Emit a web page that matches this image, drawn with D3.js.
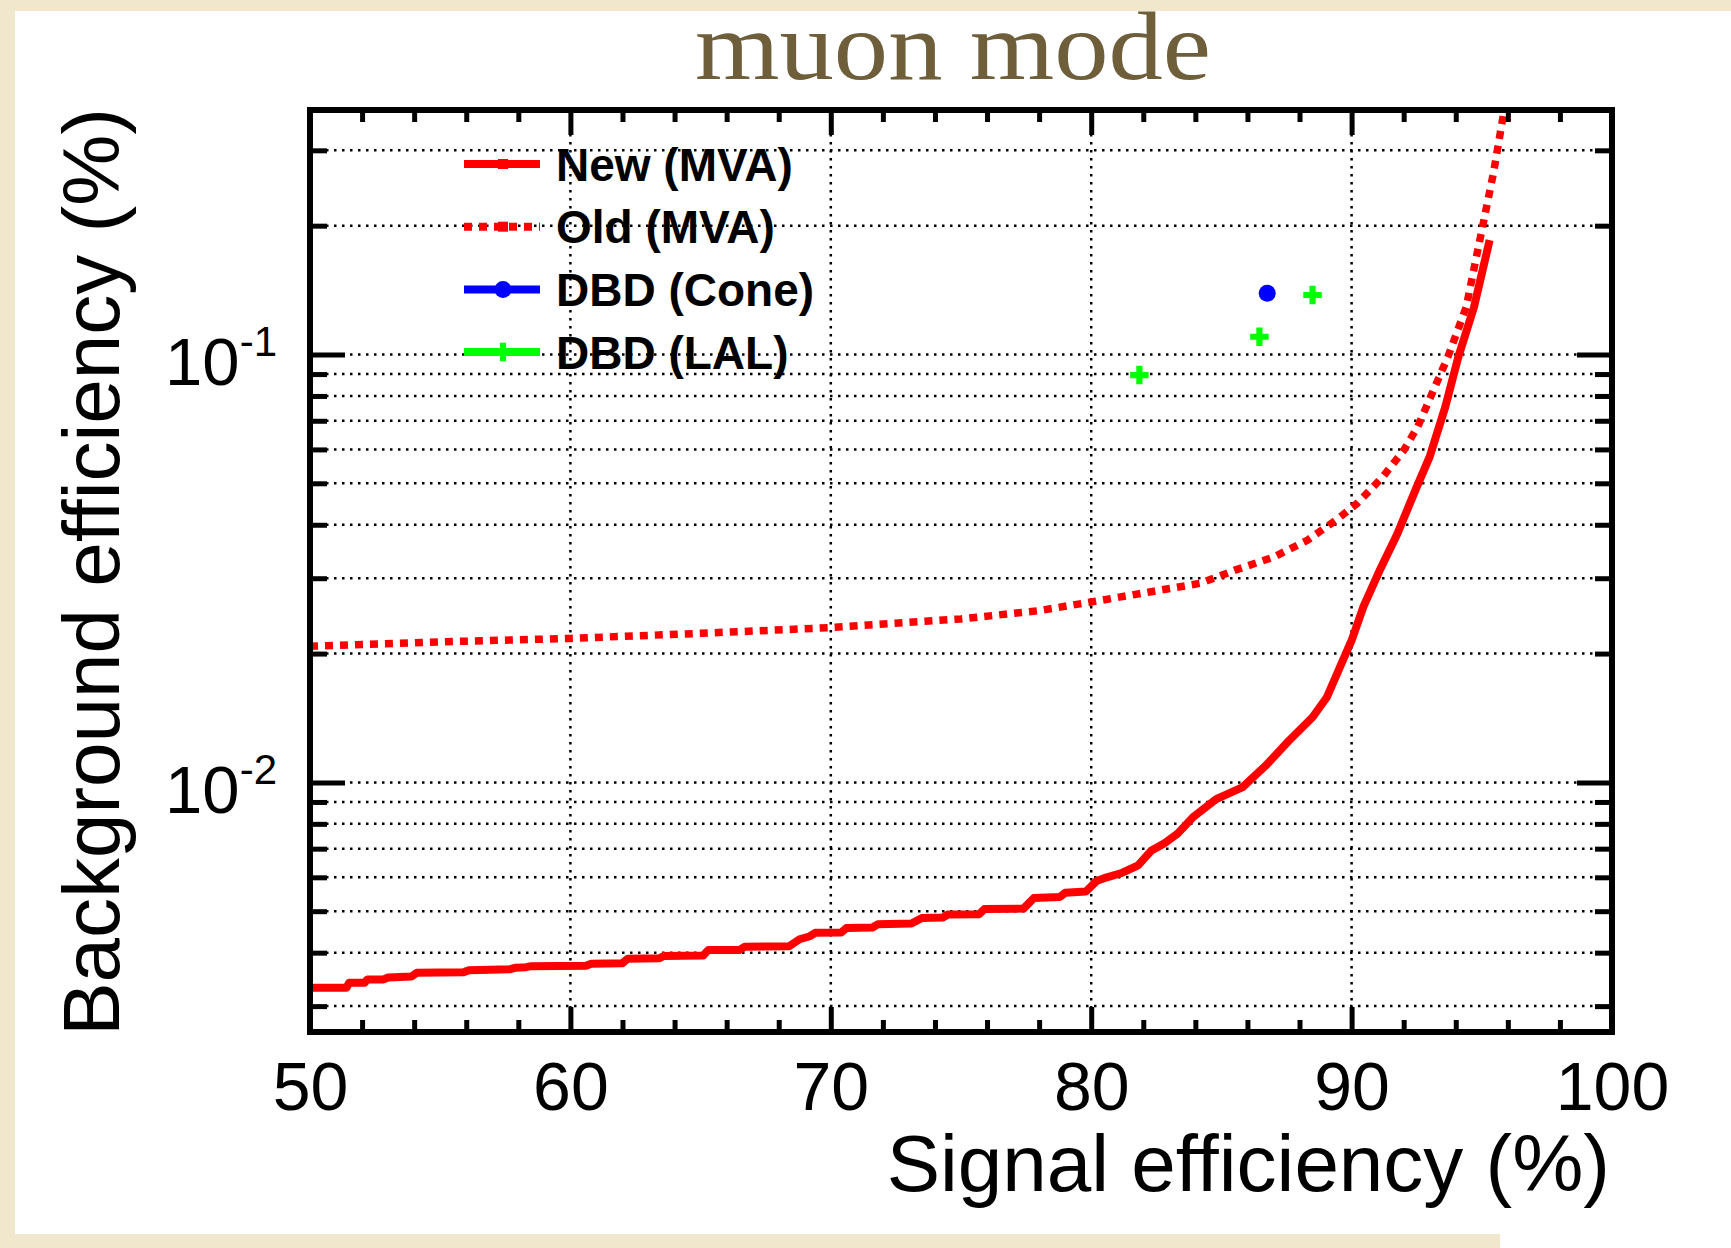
<!DOCTYPE html>
<html>
<head>
<meta charset="utf-8">
<script src="https://cdn.jsdelivr.net/npm/d3@7"></script>
<style>
  html, body { margin: 0; overflow: hidden; background: #fff; }
  svg { display: block; }
</style>
</head>
<body>
<div id="chart"></div>
<script>
// data
const newMVA = [
  [50.0, 0.00331], [51.4, 0.00331], [51.5, 0.0034], [52.1, 0.0034], [52.2, 0.00346],
  [52.8, 0.00346], [53.0, 0.0035], [53.9, 0.00352], [54.1, 0.00359], [55.9, 0.0036],
  [56.1, 0.00364], [57.7, 0.00366], [57.9, 0.00369], [58.3, 0.0037], [58.5, 0.00372],
  [60.6, 0.00373], [60.8, 0.00377], [62.0, 0.00378], [62.2, 0.00387], [63.4, 0.00388],
  [63.6, 0.00393], [65.1, 0.00394], [65.3, 0.00406], [66.5, 0.00406], [66.7, 0.00413],
  [68.4, 0.00414], [68.8, 0.0043], [69.2, 0.00437], [69.4, 0.00445], [70.4, 0.00446],
  [70.6, 0.00457], [71.6, 0.00458], [71.8, 0.00466], [73.1, 0.00468], [73.5, 0.00482],
  [74.3, 0.00483], [74.5, 0.00491], [75.7, 0.00492], [75.9, 0.00506], [77.4, 0.00507],
  [77.8, 0.00537], [78.8, 0.0054], [79.0, 0.00552], [79.8, 0.00556], [80.2, 0.00588],
  [80.6, 0.006], [81.2, 0.00615], [81.8, 0.0064], [82.3, 0.00692], [82.8, 0.0072],
  [83.3, 0.00757], [83.9, 0.00828], [84.8, 0.00914], [85.8, 0.00973], [86.7, 0.01094],
  [87.6, 0.01253], [88.5, 0.0142], [89.05, 0.01581], [89.55, 0.01858], [90.0, 0.02146],
  [90.45, 0.0257], [91.1, 0.0315], [91.75, 0.0380], [92.45, 0.0482], [93.0, 0.0577],
  [93.6, 0.0755], [94.1, 0.0988], [94.7, 0.129], [95.3, 0.185]
];
const oldMVA = [
  [50, 0.0208], [55, 0.0213], [60, 0.0217], [65, 0.0223], [70, 0.023], [75, 0.0241],
  [78, 0.0252], [80, 0.0264], [82.3, 0.0279], [84.2, 0.0292], [85.5, 0.0313], [87.0, 0.0336],
  [88.3, 0.0368], [89.4, 0.041], [90.2, 0.0448], [91.2, 0.0518], [92.0, 0.0597], [92.55, 0.068],
  [93.7, 0.0988], [94.4, 0.129], [95.0, 0.195], [95.45, 0.266], [95.86, 0.373]
];
const dbdCone = [[86.76, 0.139]];
const dbdLAL = [[88.5, 0.1377], [86.46, 0.110], [81.85, 0.0895]];

const xRange = [50, 100];
const yRange = [0.00261, 0.3727];
const xMajor = [50, 60, 70, 80, 90, 100];
const xMinor = [52, 54, 56, 58, 62, 64, 66, 68, 72, 74, 76, 78, 82, 84, 86, 88, 92, 94, 96, 98];
const yMajor = [0.01, 0.1];
const yMinor = [0.003, 0.004, 0.005, 0.006, 0.007, 0.008, 0.009,
                0.02, 0.03, 0.04, 0.05, 0.06, 0.07, 0.08, 0.09, 0.2, 0.3];
const yLabels = { 0.01: "-2", 0.1: "-1" };
const legendLabels = ["New (MVA)", "Old (MVA)", "DBD (Cone)", "DBD (LAL)"];

const W = 1731, H = 1248;
const fL = 310, fR = 1612, fT = 110, fB = 1032;
const paper = "#f1e7cc";

const svg = d3.select("#chart").append("svg").attr("width", W).attr("height", H);

// beige paper edges round the white slide
svg.append("rect").attr("width", W).attr("height", H).attr("fill", "#fff");
svg.append("rect").attr("width", W).attr("height", 11).attr("fill", paper);
svg.append("rect").attr("width", 15).attr("height", H).attr("fill", paper);
svg.append("rect").attr("y", 1234).attr("width", 1500).attr("height", H - 1234).attr("fill", paper);

svg.append("text")
  .attr("x", 953).attr("y", 79)
  .attr("text-anchor", "middle")
  .attr("font-family", "Liberation Serif, serif")
  .attr("font-size", 98)
  .attr("textLength", 516)
  .attr("lengthAdjust", "spacingAndGlyphs")
  .attr("fill", "#6e5e3a")
  .text("muon mode");

const x = d3.scaleLinear().domain(xRange).range([fL, fR]);
const y = d3.scaleLog().domain(yRange).range([fB, fT]);

svg.append("defs").append("clipPath").attr("id", "frame")
  .append("rect").attr("x", fL).attr("y", fT).attr("width", fR - fL).attr("height", fB - fT);

// grid
const grid = svg.append("g").attr("stroke", "#000").attr("stroke-width", 2.5).attr("stroke-dasharray", "2.5,5.5");
grid.selectAll(".gx").data(xMajor.slice(1, -1)).join("line")
  .attr("x1", d => x(d)).attr("x2", d => x(d)).attr("y1", fT).attr("y2", fB);
grid.selectAll(".gy").data(yMajor.concat(yMinor)).join("line")
  .attr("y1", d => y(d)).attr("y2", d => y(d)).attr("x1", fL).attr("x2", fR);

// curves
const line = d3.line().x(d => x(d[0])).y(d => y(d[1]));
const plot = svg.append("g").attr("clip-path", "url(#frame)");
plot.append("path").datum(oldMVA).attr("d", line)
  .attr("fill", "none").attr("stroke", "#ff0000").attr("stroke-width", 7.5).attr("stroke-dasharray", "8,7");
plot.append("path").datum(newMVA).attr("d", line)
  .attr("fill", "none").attr("stroke", "#ff0000").attr("stroke-width", 8).attr("stroke-linejoin", "round");

const cross = d3.symbol().type(d3.symbolCross).size(190);
plot.selectAll(".lal").data(dbdLAL).join("path")
  .attr("transform", d => `translate(${x(d[0])},${y(d[1])})`)
  .attr("d", cross).attr("fill", "#00ff00");
plot.selectAll(".cone").data(dbdCone).join("circle")
  .attr("cx", d => x(d[0])).attr("cy", d => y(d[1])).attr("r", 8.5).attr("fill", "#0000ff");

// axes with inward ticks
function styleAxis(g) {
  g.select(".domain").remove();
  g.selectAll(".tick line").attr("stroke", "#000").attr("stroke-width", 5);
}
svg.append("g").attr("transform", `translate(0,${fB})`)
  .call(d3.axisBottom(x).tickValues(xMajor).tickSizeInner(-25).tickPadding(30).tickFormat(d3.format("d")))
  .call(styleAxis)
  .call(g => g.selectAll("text").attr("font-family", "Liberation Sans, Arial, sans-serif").attr("font-size", 68).attr("fill", "#000"));
svg.append("g").attr("transform", `translate(0,${fB})`)
  .call(d3.axisBottom(x).tickValues(xMinor).tickSizeInner(-12).tickFormat("")).call(styleAxis);
svg.append("g").attr("transform", `translate(0,${fT})`)
  .call(d3.axisTop(x).tickValues(xMajor).tickSizeInner(-25).tickFormat("")).call(styleAxis);
svg.append("g").attr("transform", `translate(0,${fT})`)
  .call(d3.axisTop(x).tickValues(xMinor).tickSizeInner(-12).tickFormat("")).call(styleAxis);

const yAxis = svg.append("g").attr("transform", `translate(${fL},0)`)
  .call(d3.axisLeft(y).tickValues(yMajor).tickSizeInner(-35).tickPadding(33).tickFormat(() => ""))
  .call(styleAxis);
yAxis.selectAll(".tick text")
  .attr("font-family", "Liberation Sans, Arial, sans-serif").attr("font-size", 67).attr("fill", "#000")
  .attr("dy", "0.45em")
  .each(function (d) {
    const t = d3.select(this);
    t.append("tspan").text("10");
    t.append("tspan").attr("font-size", 42).attr("dy", -29).text(yLabels[d]);
  });
svg.append("g").attr("transform", `translate(${fL},0)`)
  .call(d3.axisLeft(y).tickValues(yMinor).tickSizeInner(-17).tickFormat(() => "")).call(styleAxis);
svg.append("g").attr("transform", `translate(${fR},0)`)
  .call(d3.axisRight(y).tickValues(yMajor).tickSizeInner(-35).tickFormat(() => "")).call(styleAxis);
svg.append("g").attr("transform", `translate(${fR},0)`)
  .call(d3.axisRight(y).tickValues(yMinor).tickSizeInner(-17).tickFormat(() => "")).call(styleAxis);

svg.append("rect").attr("x", fL).attr("y", fT).attr("width", fR - fL).attr("height", fB - fT)
  .attr("fill", "none").attr("stroke", "#000").attr("stroke-width", 6);

// axis titles
svg.append("text")
  .attr("x", fR - 2).attr("y", 1191)
  .attr("text-anchor", "end")
  .attr("font-family", "Liberation Sans, Arial, sans-serif").attr("font-size", 80)
  .text("Signal efficiency (%)");
svg.append("text")
  .attr("transform", "translate(119,108) rotate(-90)")
  .attr("text-anchor", "end")
  .attr("font-family", "Liberation Sans, Arial, sans-serif").attr("font-size", 80)
  .text("Background efficiency (%)");

// legend
const legendColors = ["#ff0000", "#ff0000", "#0000ff", "#00ff00"];
const legendDash = [null, "8,7", null, null];
const legendRows = svg.append("g").selectAll("g").data(legendLabels).join("g")
  .attr("transform", (d, i) => `translate(0,${164 + i * 62.7})`);
legendRows.append("line")
  .attr("x1", 464).attr("x2", 540)
  .attr("stroke", (d, i) => legendColors[i]).attr("stroke-width", 8)
  .attr("stroke-dasharray", (d, i) => legendDash[i]);
legendRows.filter((d, i) => i < 2).append("rect")
  .attr("x", 498).attr("y", -5).attr("width", 10).attr("height", 10).attr("fill", "#ff0000");
legendRows.filter((d, i) => i === 2).append("circle")
  .attr("cx", 503).attr("r", 8.5).attr("fill", "#0000ff");
legendRows.filter((d, i) => i === 3).append("path")
  .attr("transform", "translate(503,0)").attr("d", cross).attr("fill", "#00ff00");
legendRows.append("text")
  .attr("x", 556).attr("dy", "0.36em")
  .attr("font-family", "Liberation Sans, Arial, sans-serif").attr("font-size", 46).attr("font-weight", "bold")
  .text(d => d);
</script>
</body>
</html>
